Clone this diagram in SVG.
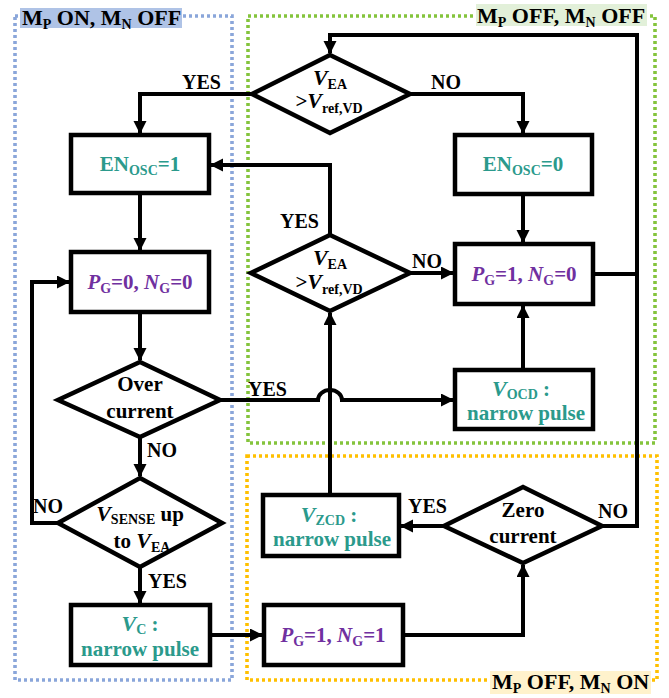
<svg xmlns="http://www.w3.org/2000/svg" width="669" height="698" viewBox="0 0 669 698">
<style>
  text { font-family: "Liberation Serif", "Times New Roman", serif; font-weight: bold; fill: #000; }
  .n { font-size: 21px; }
  .lab { font-size: 20px; }
  .reg { font-size: 22px; }
  .teal { fill: #2B9A8C; }
  .pur { fill: #7030A0; }
  .it { font-style: italic; }
  .sub { font-size: 14px; }
  .box { fill: #fff; stroke: #000; stroke-width: 4.5; }
  .con { fill: none; stroke: #000; stroke-width: 4; }
  .zone { fill: none; stroke-width: 3.6; stroke-dasharray: 3 3; }
</style>
<defs>
  <marker id="ah" markerUnits="userSpaceOnUse" markerWidth="14" markerHeight="14" refX="12" refY="6.5" orient="auto">
    <path d="M0,0 L13,6.5 L0,13 z" fill="#000"/>
  </marker>
</defs>
<rect width="669" height="698" fill="#fff"/>

<g id="zones">
  <rect class="zone" x="15" y="16" width="217" height="664" stroke="#8AA6DA"/>
  <rect class="zone" x="248" y="16" width="407" height="427" stroke="#84C43C"/>
  <rect class="zone" x="247" y="456" width="410" height="224" stroke="#FFC000"/>
  <rect x="20" y="8" width="162" height="20" fill="#AFC3E6"/>
  <text class="reg" x="22" y="25">M<tspan class="sub" dy="4">P</tspan><tspan dy="-4"> ON, M</tspan><tspan class="sub" dy="4">N</tspan><tspan dy="-4"> OFF</tspan></text>
  <rect x="476" y="4" width="171" height="22" fill="#E2F0D9"/>
  <text class="reg" x="477" y="23">M<tspan class="sub" dy="4">P</tspan><tspan dy="-4"> OFF, M</tspan><tspan class="sub" dy="4">N</tspan><tspan dy="-4"> OFF</tspan></text>
  <rect x="490" y="671" width="161" height="23" fill="#FFF2CC"/>
  <text class="reg" x="492" y="689">M<tspan class="sub" dy="4">P</tspan><tspan dy="-4"> OFF, M</tspan><tspan class="sub" dy="4">N</tspan><tspan dy="-4"> ON</tspan></text>
</g>

<g id="connectors">
  <path class="con" d="M252 94 H140 V133" marker-end="url(#ah)"/>
  <path class="con" d="M410 94 H523 V133" marker-end="url(#ah)"/>
  <path class="con" d="M140 193 V250" marker-end="url(#ah)"/>
  <path class="con" d="M523 194 V242" marker-end="url(#ah)"/>
  <path class="con" d="M140 312 V360" marker-end="url(#ah)"/>
  <path class="con" d="M220 400 H318 A12 10 0 0 1 342 400 H453" marker-end="url(#ah)"/>
  <path class="con" d="M140 437 V476" marker-end="url(#ah)"/>
  <path class="con" d="M58 523 H32 V282 H69" marker-end="url(#ah)"/>
  <path class="con" d="M140 567 V603" marker-end="url(#ah)"/>
  <path class="con" d="M210 635 H262" marker-end="url(#ah)"/>
  <path class="con" d="M403 635 H523 V565" marker-end="url(#ah)"/>
  <path class="con" d="M444 526 H401" marker-end="url(#ah)"/>
  <path class="con" d="M602 526 H637 V35 H330 V53" marker-end="url(#ah)"/>
  <path class="con" d="M593 274 H637"/>
  <path class="con" d="M330 495 V313" marker-end="url(#ah)"/>
  <path class="con" d="M523 370 V306" marker-end="url(#ah)"/>
  <path class="con" d="M330 235 V165 H211" marker-end="url(#ah)"/>
  <path class="con" d="M410 273 H453" marker-end="url(#ah)"/>
  <text class="lab" x="182" y="89">YES</text>
  <text class="lab" x="431" y="89">NO</text>
  <text class="lab" x="280" y="228">YES</text>
  <text class="lab" x="412" y="268">NO</text>
  <text class="lab" x="248" y="396">YES</text>
  <text class="lab" x="147" y="457">NO</text>
  <text class="lab" x="33" y="513">NO</text>
  <text class="lab" x="148" y="588">YES</text>
  <text class="lab" x="408" y="513">YES</text>
  <text class="lab" x="598" y="518">NO</text>
</g>

<g id="d1">
  <polygon class="box" points="330,55 410,94 330,133 252,94"/>
  <text class="n" x="330" y="85" text-anchor="middle"><tspan class="it" font-size="22">V</tspan><tspan class="sub" dy="4">EA</tspan></text>
  <text class="n" x="329" y="108" text-anchor="middle">&gt;<tspan class="it" font-size="22">V</tspan><tspan class="sub" dy="5">ref,VD</tspan></text>
</g>
<g id="enosc1">
  <rect class="box" x="71" y="135" width="138" height="58"/>
  <text class="n teal" x="140" y="171" text-anchor="middle">EN<tspan class="sub" dy="4">OSC</tspan><tspan dy="-4">=1</tspan></text>
</g>
<g id="enosc0">
  <rect class="box" x="455" y="135" width="137" height="59"/>
  <text class="n teal" x="523" y="171" text-anchor="middle">EN<tspan class="sub" dy="4">OSC</tspan><tspan dy="-4">=0</tspan></text>
</g>
<g id="pg0ng0">
  <rect class="box" x="71" y="252" width="138" height="60"/>
  <text class="n pur" x="140" y="289" text-anchor="middle"><tspan class="it">P</tspan><tspan class="sub" dy="4">G</tspan><tspan dy="-4">=0, </tspan><tspan class="it">N</tspan><tspan class="sub" dy="4">G</tspan><tspan dy="-4">=0</tspan></text>
</g>
<g id="d2">
  <polygon class="box" points="330,235 410,273 330,311 251,273"/>
  <text class="n" x="330" y="265" text-anchor="middle"><tspan class="it" font-size="22">V</tspan><tspan class="sub" dy="4">EA</tspan></text>
  <text class="n" x="329" y="289" text-anchor="middle">&gt;<tspan class="it" font-size="22">V</tspan><tspan class="sub" dy="5">ref,VD</tspan></text>
</g>
<g id="pg1ng0">
  <rect class="box" x="455" y="244" width="138" height="60"/>
  <text class="n pur" x="524" y="281" text-anchor="middle"><tspan class="it">P</tspan><tspan class="sub" dy="4">G</tspan><tspan dy="-4">=1, </tspan><tspan class="it">N</tspan><tspan class="sub" dy="4">G</tspan><tspan dy="-4">=0</tspan></text>
</g>
<g id="overcurrent">
  <polygon class="box" points="140,362 220,400 140,437 58,400"/>
  <text class="n" x="140" y="391" text-anchor="middle">Over</text>
  <text class="n" x="140" y="418" text-anchor="middle">current</text>
</g>
<g id="vocd">
  <rect class="box" x="455" y="370" width="138" height="59"/>
  <text class="n teal" x="521" y="396" text-anchor="middle"><tspan class="it" font-size="22">V</tspan><tspan class="sub" dy="3">OCD</tspan><tspan dy="-3"> :</tspan></text>
  <text class="n teal" x="526" y="420" text-anchor="middle">narrow pulse</text>
</g>
<g id="vsense">
  <polygon class="box" points="140,478 222,523 140,567 58,523"/>
  <text class="n" x="140" y="521" text-anchor="middle"><tspan class="it" font-size="22">V</tspan><tspan class="sub" dy="3">SENSE</tspan><tspan dy="-3"> up</tspan></text>
  <text class="n" x="142" y="548" text-anchor="middle">to <tspan class="it" font-size="22">V</tspan><tspan class="sub" dy="4">EA</tspan></text>
</g>
<g id="vzcd">
  <rect class="box" x="263" y="495" width="136" height="61"/>
  <text class="n teal" x="329" y="522" text-anchor="middle"><tspan class="it" font-size="22">V</tspan><tspan class="sub" dy="3">ZCD</tspan><tspan dy="-3"> :</tspan></text>
  <text class="n teal" x="332" y="546" text-anchor="middle">narrow pulse</text>
</g>
<g id="zerocurrent">
  <polygon class="box" points="523,487 602,526 523,563 444,526"/>
  <text class="n" x="523" y="517" text-anchor="middle">Zero</text>
  <text class="n" x="523" y="543" text-anchor="middle">current</text>
</g>
<g id="vc">
  <rect class="box" x="71" y="605" width="139" height="60"/>
  <text class="n teal" x="140" y="631" text-anchor="middle"><tspan class="it" font-size="22">V</tspan><tspan class="sub" dy="3">C</tspan><tspan dy="-3"> :</tspan></text>
  <text class="n teal" x="140" y="656" text-anchor="middle">narrow pulse</text>
</g>
<g id="pg1ng1">
  <rect class="box" x="264" y="605" width="139" height="60"/>
  <text class="n pur" x="333" y="642" text-anchor="middle"><tspan class="it">P</tspan><tspan class="sub" dy="4">G</tspan><tspan dy="-4">=1, </tspan><tspan class="it">N</tspan><tspan class="sub" dy="4">G</tspan><tspan dy="-4">=1</tspan></text>
</g>
</svg>
